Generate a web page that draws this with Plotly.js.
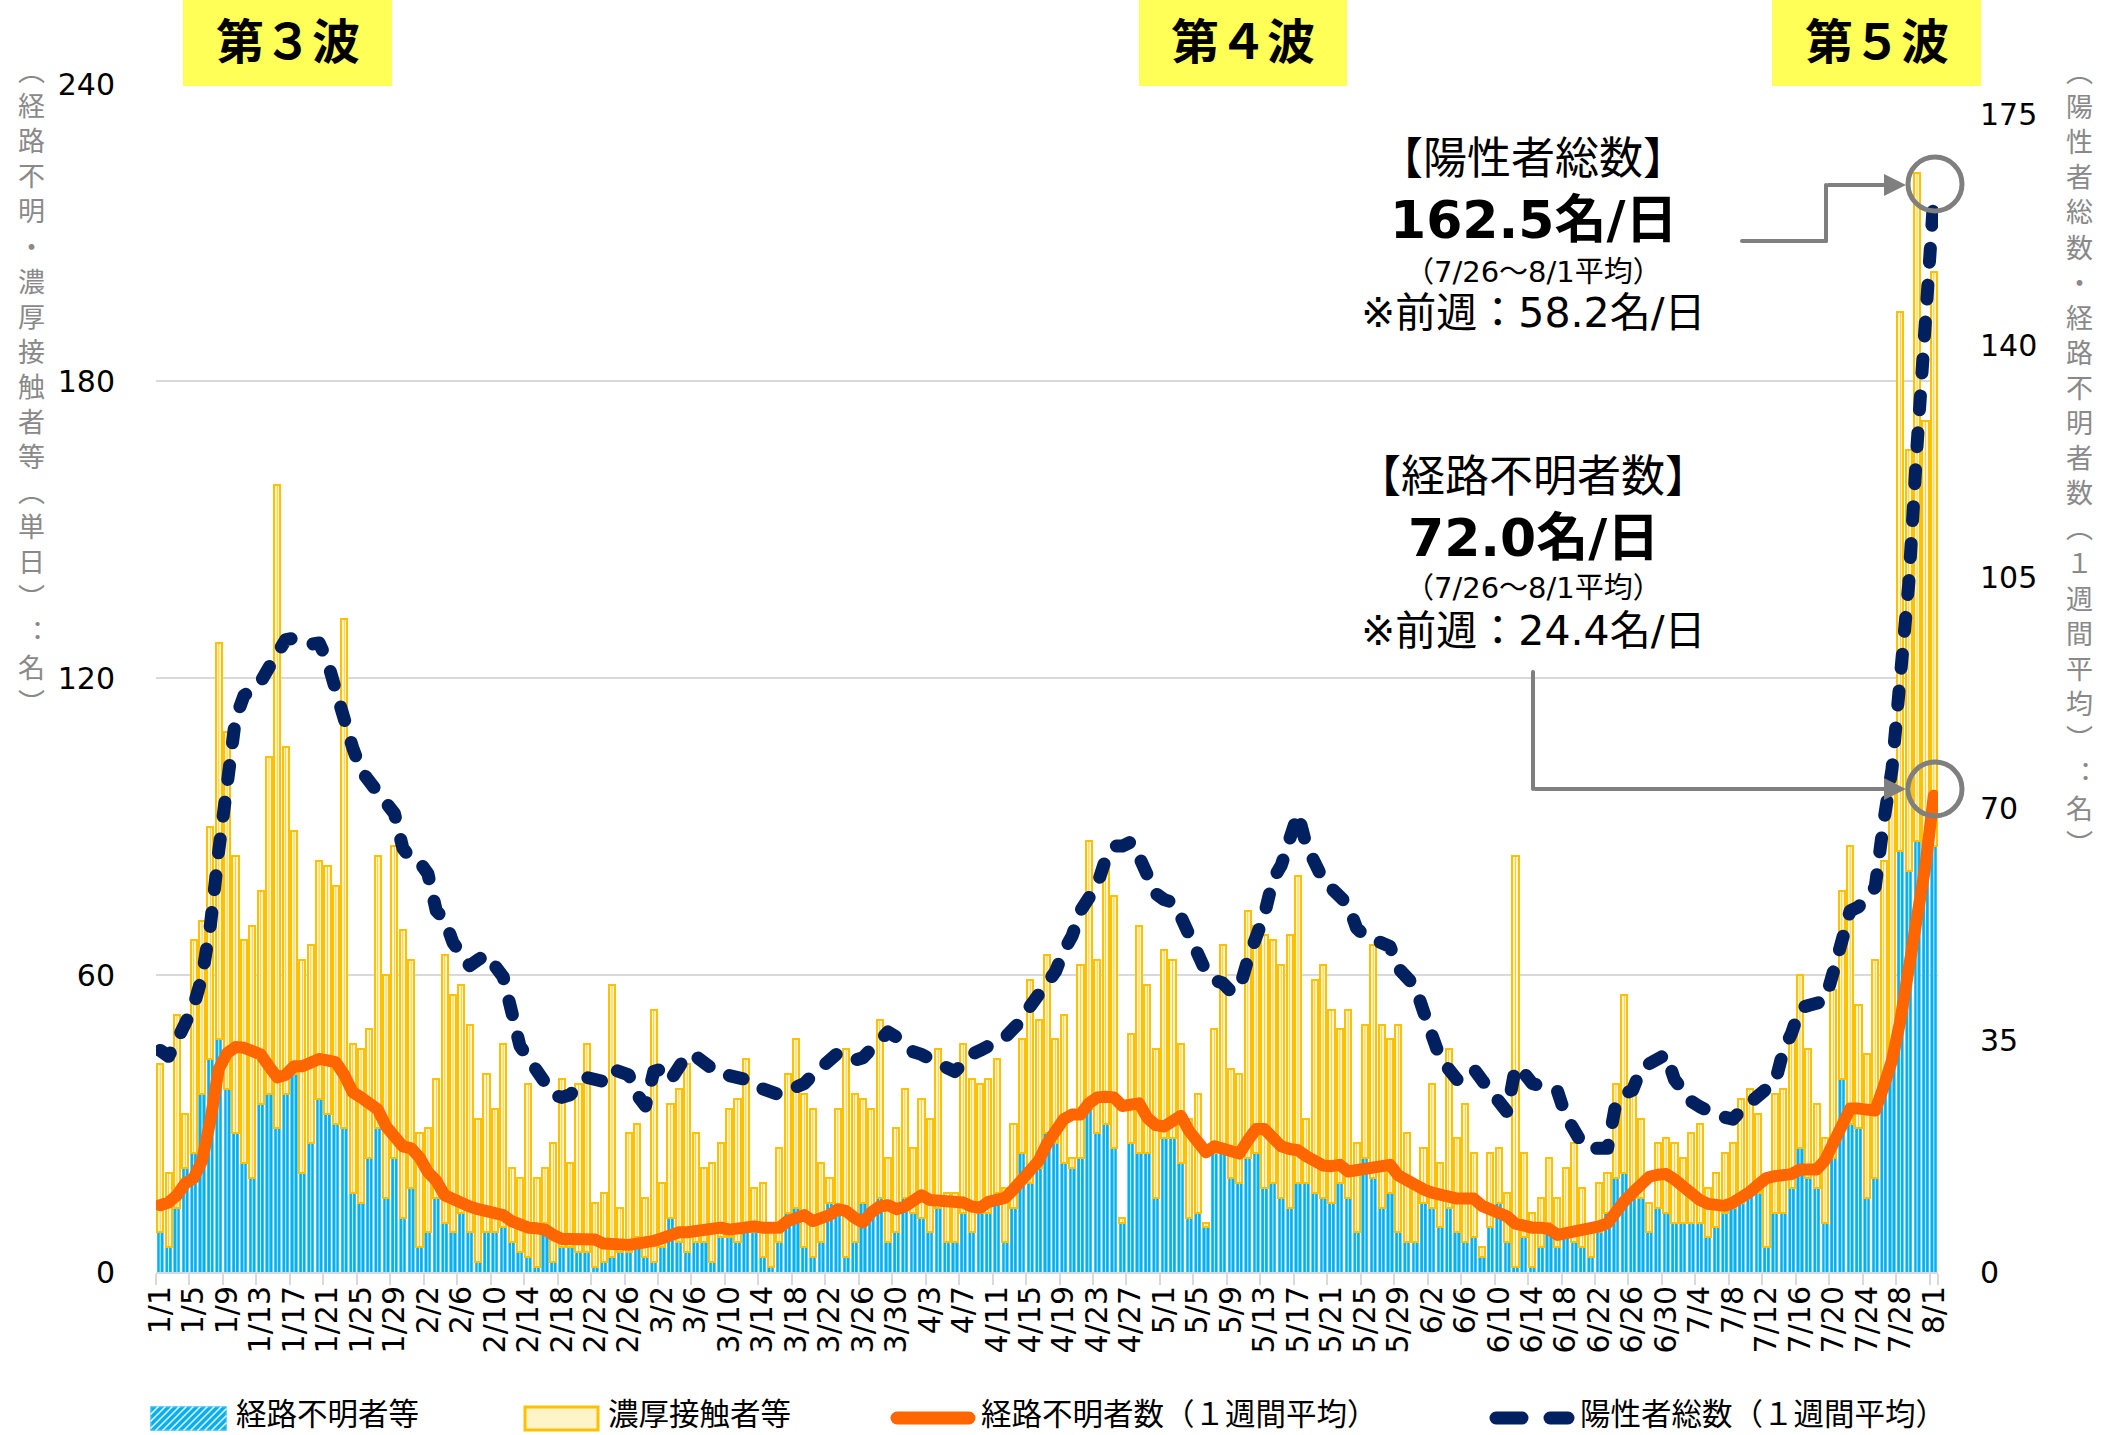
<!DOCTYPE html>
<html>
<head>
<meta charset="utf-8">
<script src="https://cdn.plot.ly/plotly-3.0.1.min.js"></script>
<style>
html,body{margin:0;padding:0;background:#fff;}
#chart{width:2121px;height:1435px;}
.scatterlayer .js-line{stroke-linecap:round !important;stroke-linejoin:round !important;}
.shapelayer path{stroke-linecap:round;}
</style>
</head>
<body>
<div id="chart"></div>
<script>
// ---- categories (2021/1/1 - 8/1) ----
const monthDays = [31, 28, 31, 30, 31, 30, 31, 1];
const dates = [];
monthDays.forEach((n, m) => { for (let d = 1; d <= n; d++) dates.push((m + 1) + '/' + d); });

const tickLabels = ['1/1','1/5','1/9','1/13','1/17','1/21','1/25','1/29','2/2','2/6','2/10','2/14','2/18','2/22','2/26',
  '3/2','3/6','3/10','3/14','3/18','3/22','3/26','3/30','4/3','4/7','4/11','4/15','4/19','4/23','4/27',
  '5/1','5/5','5/9','5/13','5/17','5/21','5/25','5/29','6/2','6/6','6/10','6/14','6/18','6/22','6/26','6/30',
  '7/4','7/8','7/12','7/16','7/20','7/24','7/28','8/1'];
const leftTicks = [0, 60, 120, 180, 240];
const rightTicks = [0, 35, 70, 105, 140, 175];

// 経路不明者等 (daily)
const unknownDaily = [
  8,5,13,21,24,36,43,47,37,28,
  22,19,34,36,29,36,40,20,26,35,
  32,30,29,16,14,23,29,15,23,11,
  17,5,8,15,10,8,12,8,2,8,
  8,9,6,4,3,1,10,2,5,5,
  4,4,1,2,3,4,4,7,3,2,
  5,11,6,4,6,6,2,7,7,6,
  8,8,3,1,6,12,13,5,3,6,
  14,13,3,6,14,13,15,6,8,15,
  12,11,8,13,6,6,12,8,12,12,
  16,6,13,24,18,21,28,26,22,21,
  23,33,28,30,25,10,26,24,24,15,
  27,27,22,11,12,9,24,24,19,18,
  23,24,17,18,15,13,18,18,16,15,
  14,18,15,8,23,19,13,16,8,6,
  6,14,13,9,13,8,6,7,3,9,
  14,6,1,7,1,5,10,5,7,6,
  5,3,8,12,19,20,15,15,8,13,
  12,10,10,10,10,7,9,12,13,14,
  17,16,5,12,12,17,25,19,17,10,
  23,39,30,29,15,19,37,44,85,81,
  87,84,86];

// 濃厚接触者等 (daily)
const contactDaily = [
  34,15,39,11,43,35,47,80,72,56,
  45,51,43,68,130,70,49,43,40,48,
  50,48,103,30,31,26,55,45,63,58,
  46,23,21,24,54,48,46,42,29,32,
  25,37,15,15,35,18,11,24,34,17,
  34,42,13,14,55,9,24,23,12,51,
  13,23,31,38,22,15,20,19,26,29,
  35,9,15,9,19,28,34,31,30,16,
  5,20,42,30,21,20,36,17,21,22,
  13,24,23,32,10,10,34,31,26,27,
  27,11,17,23,41,30,36,21,30,2,
  39,54,35,53,51,1,22,46,34,30,
  38,36,24,20,24,1,25,42,22,22,
  50,46,51,49,47,55,62,13,43,47,
  39,31,38,18,27,47,37,31,42,22,
  11,11,25,13,32,19,28,17,2,15,
  11,10,83,17,11,10,13,10,14,20,
  12,6,10,8,19,36,22,16,6,13,
  15,16,13,18,20,10,11,12,13,21,
  20,16,13,24,25,31,35,26,17,17,
  34,38,56,25,29,44,46,55,109,85,
  135,88,116];

// 経路不明者数（１週間平均）
const unknownAvg7 = [
  10.1,10.5,11.6,13.4,14.2,16.8,22.9,30.7,33.1,34.0,
  33.9,33.3,32.9,31.1,29.4,29.8,31.1,31.1,31.7,32.2,
  32.0,31.7,29.8,27.2,26.4,25.7,24.6,22.0,20.7,19.0,
  18.7,17.3,15.1,13.8,11.6,10.9,10.6,9.9,9.5,9.2,
  8.8,8.6,7.7,7.1,6.7,6.6,6.4,5.6,5.0,5.0,
  5.0,5.0,4.9,4.3,4.1,4.1,4.1,4.3,4.3,4.7,
  5.1,5.8,6.0,6.0,6.2,6.4,6.6,6.7,6.4,6.6,
  6.8,6.9,6.7,6.6,6.7,7.7,8.3,8.6,7.7,8.0,
  8.6,9.5,9.2,8.2,7.5,9.0,9.9,10.1,9.5,9.9,
  10.9,11.6,10.9,10.8,10.8,10.6,10.5,9.9,9.7,10.6,
  10.9,11.2,12.5,13.8,15.5,16.8,19.4,21.2,23.1,23.8,
  23.8,25.5,26.4,26.5,26.4,25.1,25.3,25.5,23.3,22.2,
  22.0,22.7,23.6,21.3,19.4,18.1,19.0,18.7,18.1,17.9,
  19.9,21.6,21.6,20.3,19.0,18.6,18.4,17.5,16.7,16.1,
  16.0,16.2,15.2,15.4,15.9,16.2,16.2,16.2,14.6,13.8,
  13.1,12.5,12.0,11.6,11.4,11.1,11.1,11.1,10.0,9.4,
  9.2,8.4,7.3,6.9,6.7,6.7,6.5,5.6,5.8,6.2,
  6.3,6.4,6.9,7.4,9.3,10.7,12.0,13.3,14.4,14.7,
  14.8,14.0,12.8,11.6,10.9,10.3,10.1,10.0,10.5,11.1,
  12.1,13.2,14.2,14.5,14.6,14.8,15.5,15.5,15.5,16.9,
  19.5,22.5,24.7,24.7,24.7,24.4,28.0,32.0,38.0,45.5,
  53.0,61.5,72.0];

// 陽性者総数（１週間平均）
const totalAvg7 = [
  33.5,32.6,35.0,37.2,40.2,44.6,52.4,63.7,74.9,83.6,
  87.1,87.9,89.2,91.4,94.0,95.6,95.8,95.3,94.9,95.1,
  92.3,87.9,82.7,79.3,75.8,74.1,72.8,70.6,69.3,64.1,
  62.4,62.0,60.2,54.6,53.3,49.8,48.0,46.3,47.2,48.0,
  46.3,44.6,39.4,34.2,32.3,30.3,29.0,26.8,26.4,26.8,
  28.1,29.4,29.1,28.8,30.7,30.3,29.8,26.8,25.1,30.3,
  30.7,29.0,31.1,32.9,32.6,31.6,30.7,29.8,29.7,29.4,
  29.2,28.8,27.7,27.2,26.8,27.4,28.1,28.5,29.8,30.7,
  32.0,33.1,32.4,32.0,32.4,33.7,35.5,36.3,35.5,34.2,
  33.3,32.9,32.4,31.6,30.9,30.3,32.0,32.9,33.5,34.2,
  35.0,35.5,36.8,38.1,40.2,42.0,43.7,45.4,48.5,50.8,
  54.6,56.7,58.5,62.4,64.4,64.4,65.0,62.8,60.2,57.2,
  56.3,55.9,53.7,51.1,48.5,45.4,44.1,43.7,42.4,42.8,
  47.2,50.6,54.1,59.3,61.5,65.4,69.3,64.5,61.9,59.3,
  58.0,56.5,55.5,52.0,50.8,50.3,49.8,49.2,45.9,44.6,
  43.2,39.4,36.1,32.3,30.7,29.1,29.5,30.7,29.0,27.4,
  25.5,24.2,31.0,30.1,28.5,28.2,27.8,27.4,23.6,21.5,
  19.3,18.7,18.7,18.7,25.5,26.9,27.5,30.7,31.5,32.3,
  32.9,29.1,27.5,25.8,25.0,24.2,23.8,23.4,23.1,24.5,
  25.8,26.8,27.7,28.5,33.4,36.1,39.9,40.3,40.7,41.0,
  45.4,49.7,54.6,55.2,57.0,58.2,68.0,76.0,90.0,104.0,
  125.0,143.0,162.5];

const seriesNames = ['経路不明者等', '濃厚接触者等', '経路不明者数（１週間平均）', '陽性者総数（１週間平均）'];
const waveLabels = ['第３波', '第４波', '第５波'];
const leftTitle = '︵経路不明・濃厚接触者等︵単日︶︓名︶';
const rightTitle = '︵陽性者総数・経路不明者数︵１週間平均︶︓名︶';
const callout1 = ['【陽性者総数】', '<b>162.5名/日</b>', '（7/26～8/1平均）', '※前週：58.2名/日'];
const callout2 = ['【経路不明者数】', '<b>72.0名/日</b>', '（7/26～8/1平均）', '※前週：24.4名/日'];

// ---- geometry helpers (pixel -> paper) ----
const W = 2121, H = 1435, PL = 156, PR = 1938, PT = 84, PB = 1272;
const px = x => (x - PL) / (PR - PL);
const py = y => (PB - y) / (PB - PT);
const bandPx = (PR - PL) / dates.length;

const CJK = 'Noto Sans CJK JP, sans-serif';
const MIX = 'DejaVu Sans, Noto Sans CJK JP, sans-serif';
const GRAY = '#7F7F7F';

const traces = [
  {type: 'bar', x: dates, y: unknownDaily, name: seriesNames[0], yaxis: 'y',
   marker: {color: '#00B0F0', line: {color: '#4CC6F4', width: 0.8},
            pattern: {shape: '|', fgcolor: 'rgba(255,255,255,0.8)', bgcolor: '#00B0F0', size: bandPx, solidity: 0.13}}},
  {type: 'bar', x: dates, y: contactDaily, name: seriesNames[1], yaxis: 'y',
   marker: {color: '#FFF0B8', line: {color: '#FFC000', width: 2},
            pattern: {shape: '|', fgcolor: '#FFCC33', bgcolor: '#FFF6D5', size: bandPx, solidity: 0.12}}},
  {type: 'scatter', mode: 'lines', x: dates, y: unknownAvg7, name: seriesNames[2], yaxis: 'y2',
   line: {color: '#FF6600', width: 12}},
  {type: 'scatter', mode: 'lines', x: dates, y: totalAvg7, name: seriesNames[3], yaxis: 'y2',
   line: {color: '#002060', width: 13, dash: '14px,23px'}}
];

const shapes = [];
const annotations = [];

// wave label boxes
const waveBoxes = [[183, 392], [1139, 1347], [1772, 1981]];
waveBoxes.forEach((b, k) => {
  shapes.push({type: 'rect', xref: 'paper', yref: 'paper', x0: px(b[0]), x1: px(b[1]), y0: py(86), y1: py(0),
               fillcolor: '#FFFF57', line: {width: 0}, layer: 'above'});
  annotations.push({xref: 'paper', yref: 'paper', x: px((b[0] + b[1]) / 2), y: py(38), xanchor: 'center', yanchor: 'middle',
                    borderpad: 0, text: '<b>' + waveLabels[k] + '</b>', showarrow: false,
                    font: {family: CJK, size: 48, color: '#000'}});
});

// vertical axis titles (upright characters stacked one per line)
function verticalTitle(str, cx) {
  const chars = Array.from(str);
  const step = 27 * 1.3;
  annotations.push({xref: 'paper', yref: 'paper', x: px(cx), y: py(70 + step * (chars.length - 1) / 2),
                    xanchor: 'center', yanchor: 'middle', align: 'center', borderpad: 0,
                    text: chars.join('<br>'), showarrow: false, font: {family: CJK, size: 27, color: '#898989'}});
}
verticalTitle(leftTitle, 31);
verticalTitle(rightTitle, 2079);

// callout texts
const calloutY1 = [158, 220, 272, 313];
const calloutY2 = [477, 538, 588, 631];
const calloutSizes = [44, 52, 29, 41];
[[callout1, calloutY1], [callout2, calloutY2]].forEach(([txts, ys]) => {
  txts.forEach((t, k) => {
    annotations.push({xref: 'paper', yref: 'paper', x: px(1533), y: py(ys[k]), xanchor: 'center', yanchor: 'middle',
                      text: t, showarrow: false, font: {family: MIX, size: calloutSizes[k], color: '#000'}});
  });
});

// connector lines, arrows and circles
function seg(x0, y0, x1, y1, w, c) {
  shapes.push({type: 'line', xref: 'paper', yref: 'paper', x0: px(x0), y0: py(y0), x1: px(x1), y1: py(y1),
               line: {color: c || GRAY, width: w || 4}, layer: 'above'});
}
seg(1742, 241, 1826, 241);
seg(1826, 241, 1826, 185);
seg(1533, 672, 1533, 789);
function arrow(xTip, y, xTail) {
  annotations.push({xref: 'paper', yref: 'paper', x: px(xTip), y: py(y), ax: xTail - xTip, ay: 0, text: '',
                    showarrow: true, arrowhead: 2, arrowsize: 1.1, arrowwidth: 4, arrowcolor: GRAY, standoff: 0});
}
arrow(1906, 185, 1826);
arrow(1906, 789, 1533);
[[1935, 184], [1935, 789]].forEach(([cx, cy]) => {
  shapes.push({type: 'circle', xref: 'paper', yref: 'paper', x0: px(cx - 27), x1: px(cx + 27), y0: py(cy + 27), y1: py(cy - 27),
               line: {color: GRAY, width: 5}, layer: 'above'});
});

// ---- custom legend ----
const legY = 1418;
shapes.push({type: 'rect', xref: 'paper', yref: 'paper', x0: px(151), x1: px(226), y0: py(1430), y1: py(1407),
             fillcolor: '#00B0F0', line: {color: '#33BDF2', width: 1.5}});
for (let x0 = 151 - 23; x0 < 226; x0 += 7) {
  const tMin = Math.max(0, (151 - x0) / 23), tMax = Math.min(1, (226 - x0) / 23);
  if (tMin < tMax) seg(x0 + 23 * tMin, 1430 - 23 * tMin, x0 + 23 * tMax, 1430 - 23 * tMax, 1.6, 'rgba(255,255,255,0.9)');
}
shapes.push({type: 'rect', xref: 'paper', yref: 'paper', x0: px(525), x1: px(598), y0: py(1430), y1: py(1407),
             fillcolor: '#FFF4C8', line: {color: '#FFC000', width: 3}});
seg(897, legY, 969, legY, 13, '#FF6600');
seg(1496, legY, 1522, legY, 13, '#002060');
seg(1550, legY, 1568, legY, 13, '#002060');
[[235, 0], [607, 1], [980, 2], [1579, 3]].forEach(([x, k]) => {
  annotations.push({xref: 'paper', yref: 'paper', x: px(x), y: py(1435), xanchor: 'left', yanchor: 'bottom', borderpad: 0,
                    text: seriesNames[k], showarrow: false, font: {family: CJK, size: 30.5, color: '#000'}});
});

const layout = {
  width: W, height: H,
  margin: {l: PL, r: W - PR, t: PT, b: H - PB, pad: 0},
  paper_bgcolor: '#FFFFFF', plot_bgcolor: '#FFFFFF',
  barmode: 'stack', bargap: 0.27,
  showlegend: false,
  font: {family: MIX, color: '#000'},
  xaxis: {type: 'category', tickmode: 'array', tickvals: tickLabels, ticktext: tickLabels, tickangle: -90,
          tickfont: {family: 'DejaVu Sans', size: 30, color: '#000'},
          ticks: 'outside', ticklen: 11, tickwidth: 2, tickcolor: '#D9D9D9', tickson: 'boundaries',
          showline: true, linecolor: '#D9D9D9', linewidth: 2, showgrid: false, zeroline: false},
  yaxis: {range: [0, 240], tickmode: 'array', tickvals: leftTicks, ticks: 'outside', ticklen: 34, tickcolor: 'rgba(0,0,0,0)',
          tickfont: {family: 'DejaVu Sans', size: 30, color: '#000'},
          showgrid: true, gridcolor: '#D9D9D9', gridwidth: 2, zeroline: false, showline: false},
  yaxis2: {overlaying: 'y', side: 'right', range: [0, 179.6], tickmode: 'array', tickvals: rightTicks,
           ticks: 'outside', ticklen: 35, tickcolor: 'rgba(0,0,0,0)',
           tickfont: {family: 'DejaVu Sans', size: 30, color: '#000'},
           showgrid: false, zeroline: false, showline: false},
  shapes: shapes,
  annotations: annotations
};

Plotly.newPlot('chart', traces, layout, {staticPlot: true, displayModeBar: false});
</script>
</body>
</html>
